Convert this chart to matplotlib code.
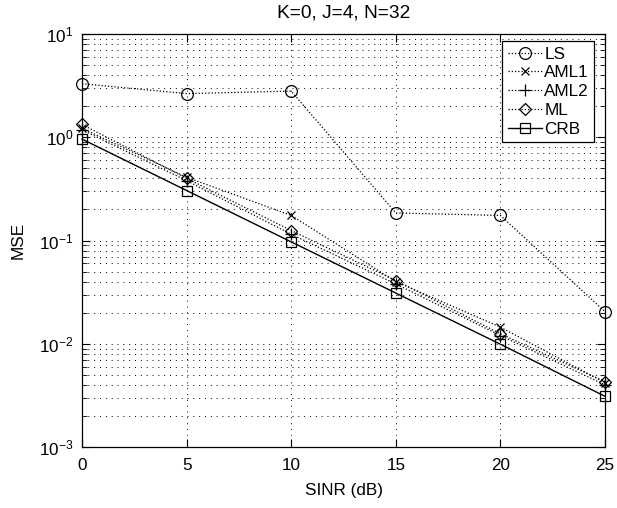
import numpy as np
import matplotlib
matplotlib.use('Agg')
import matplotlib.pyplot as plt
from matplotlib.ticker import LogLocator, NullFormatter

plt.rcParams['font.family'] = ['Liberation Sans', 'DejaVu Sans']
plt.rcParams['mathtext.fontset'] = 'custom'
plt.rcParams['mathtext.rm'] = 'Liberation Sans'

# ---------------------------------------------------------------------------
# Data
# ---------------------------------------------------------------------------
SINR_DB = [0, 5, 10, 15, 20, 25]
MSE_LS   = [3.3, 2.65, 2.8, 0.185, 0.175, 0.0205]
MSE_AML1 = [1.22, 0.41, 0.175, 0.040, 0.0145, 0.0042]
MSE_AML2 = [1.18, 0.38, 0.115, 0.038, 0.0120, 0.0040]
MSE_ML   = [1.33, 0.40, 0.125, 0.041, 0.0125, 0.0043]
MSE_CRB  = [0.96, 0.305, 0.097, 0.031, 0.0099, 0.0031]

FS = 12.3
DOT = (0, (1, 1.6))
GRID_DOT = (0, (1, 5))

fig = plt.figure(figsize=(6.17, 5.08), dpi=100)
ax = fig.add_axes([0.133, 0.120, 0.8475, 0.813])

common = dict(color='black', mfc='none', mec='black', clip_on=False, zorder=3, mew=0.9)
ax.plot(SINR_DB, MSE_LS, linestyle=DOT, marker='o', ms=8.5, lw=0.9, label='LS', **common)
ax.plot(SINR_DB, MSE_AML1, linestyle=DOT, marker='x', ms=6, lw=0.9, label='AML1', **common)
ax.plot(SINR_DB, MSE_AML2, linestyle=DOT, marker='+', ms=8.5, lw=0.9, label='AML2', **common)
ax.plot(SINR_DB, MSE_ML, linestyle=DOT, marker='D', ms=6, lw=0.9, label='ML', **common)
ax.plot(SINR_DB, MSE_CRB, '-', marker='s', ms=7, lw=1.0, label='CRB', **common)

ax.set_yscale('log')
ax.set_xlim(0, 25)
ax.set_ylim(1e-3, 1e1)
ax.set_xticks(SINR_DB)
ax.yaxis.set_major_locator(LogLocator(base=10, numticks=10))
ax.yaxis.set_minor_locator(LogLocator(base=10, subs=np.arange(2, 10), numticks=20))
ax.yaxis.set_minor_formatter(NullFormatter())

ax.grid(True, which='major', color='black', linestyle=GRID_DOT, linewidth=0.7)
ax.grid(True, which='minor', axis='y', color='black', linestyle=GRID_DOT, linewidth=0.7)

ax.tick_params(which='both', direction='in', top=True, right=True, labelsize=FS)
ax.tick_params(which='major', length=6)
ax.tick_params(which='minor', length=3.5)
ax.tick_params(axis='y', which='major', pad=6)
ax.tick_params(axis='x', which='major', pad=8)
for sp in ax.spines.values():
    sp.set_linewidth(0.9)

ax.set_xlabel('SINR (dB)', fontsize=FS, labelpad=7)
ax.set_ylabel('MSE', fontsize=FS, labelpad=10)
ax.set_title('K=0, J=4, N=32', fontsize=13.8, pad=12)

leg = ax.legend(loc='upper right', bbox_to_anchor=(0.979, 0.982), fontsize=FS,
                frameon=True, fancybox=False, edgecolor='black', framealpha=1,
                handlelength=2.0, handletextpad=0.15, labelspacing=0.22,
                borderpad=0.3, borderaxespad=0.0)
leg.get_frame().set_linewidth(0.9)

fig.savefig('out.png', dpi=100)
